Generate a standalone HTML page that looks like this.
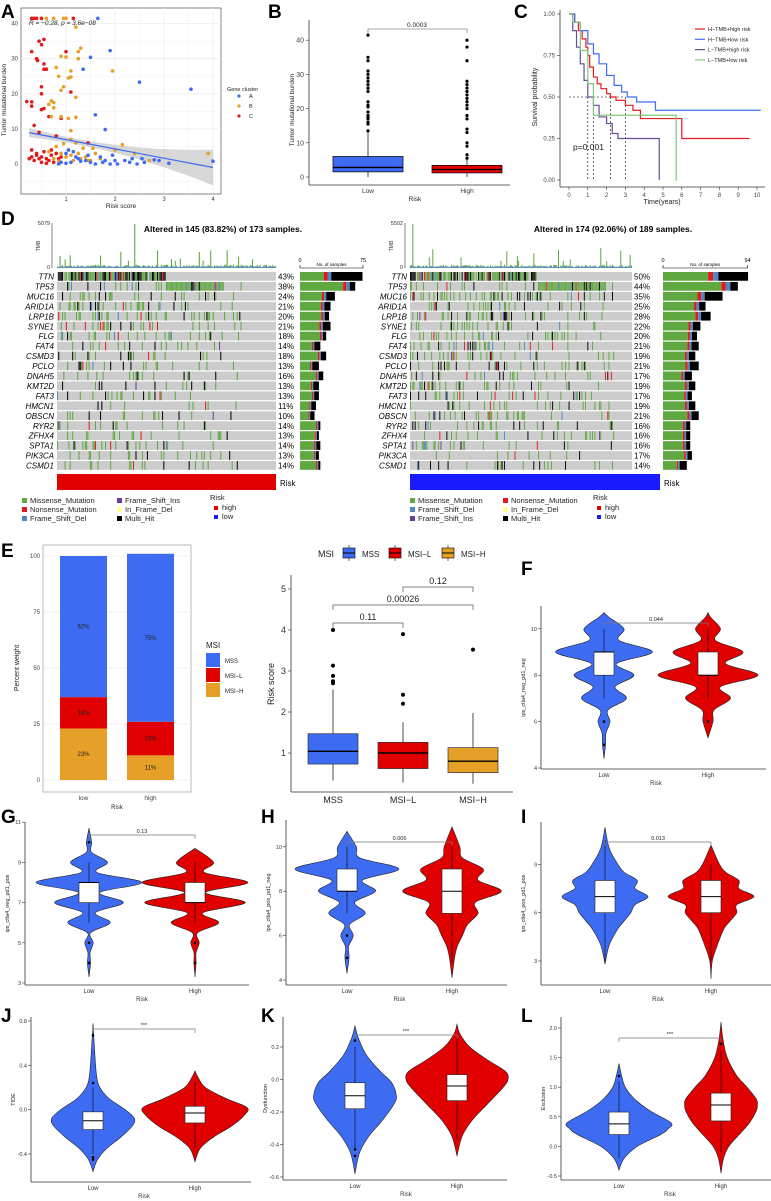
<!DOCTYPE html>
<html><head><meta charset="utf-8">
<style>
html,body{margin:0;padding:0;background:#fff;}
svg{display:block;font-family:"Liberation Sans",Arial,sans-serif;}
.pl{font-size:19px;font-weight:bold;fill:#000;}
</style></head>
<body>
<svg id="fig" width="771" height="1201" viewBox="0 0 771 1201" xmlns="http://www.w3.org/2000/svg">
<rect x="0" y="0" width="771" height="1201" fill="#fff"/>
<text class="pl" x="1" y="18">A</text>
<text class="pl" x="268" y="18">B</text>
<text class="pl" x="514" y="18">C</text>
<text class="pl" x="1" y="225">D</text>
<text class="pl" x="1" y="557">E</text>
<text class="pl" x="521" y="575">F</text>
<text class="pl" x="1" y="823">G</text>
<text class="pl" x="261" y="823">H</text>
<text class="pl" x="521" y="823">I</text>
<text class="pl" x="1" y="1022">J</text>
<text class="pl" x="261" y="1022">K</text>
<text class="pl" x="521" y="1022">L</text>
</svg>
<script>
const NS='http://www.w3.org/2000/svg';
const svg=document.getElementById('fig');
function mk(tag,attrs,parent){const e=document.createElementNS(NS,tag);for(const k in attrs)e.setAttribute(k,attrs[k]);(parent||svg).appendChild(e);return e;}
function tx(x,y,s,size,anchor,fill,extra){const e=mk('text',Object.assign({x:x,y:y,'font-size':size,'text-anchor':anchor||'start',fill:fill||'#222'},extra||{}));e.textContent=s;return e;}

// ===== Panel A data =====
const aCx=[0.3,0.35,0.4,0.5,1.15,0.3,0.45,0.5,0.55,0.4,0.42,0.55,0.55,0.6,1.0,0.5,0.5,0.2,0.3,0.3,0.5,0.55,0.65,0.9,1.1,0.35,0.45,0.8,1.45,0.3,0.4,0.5,0.6,0.7,0.3,0.35,0.45,0.5,0.55,0.65,0.7,0.75,0.8,0.85,0.4,0.6,0.25,0.9];
const aCy=[41.5,41.5,41.5,41.5,41.5,32,35,34,35.5,30,29.5,28.5,27,27,32,22,20,17.8,17.7,16.5,15.5,15.8,13.5,13,20.5,11,9,8,6,4,3,2,1.5,2.5,2,1,1.5,0.5,3.5,1,4,0.5,3,1.5,2.5,0.2,1.5,2];
const aBx=[0.6,0.75,0.95,1.0,1.2,1.0,0.9,1.25,1.3,1.25,1.95,0.8,1.1,0.85,1.05,1.1,0.9,0.95,1.2,0.7,0.75,0.65,0.75,0.7,0.9,1.05,1.2,1.1,1.1,2.15,3.9,0.8,0.9,1.0,1.05,1.15,1.25,1.3,1.35,1.4,1.5,0.75,0.85,0.95,1.2,1.6,1.7,2.0,2.4,2.7,1.55,0.65,1.1,1.45];
const aBy=[41.5,41.5,41.5,41.5,39,30.5,30.7,32,33,30,26.5,27.5,26.5,25,24.5,24.8,21,22,19,18,17.5,17,16,13.5,13.5,13,13.3,9.5,7,5.5,3,5,3,2,4,1,3,1.5,4.5,2,1,1.5,0.8,5.8,6,3,1.5,4,3,1,4.5,3.5,2.5,1];
const aAx=[1.65,1.9,1.5,1.35,2.5,3.55,1.6,1.8,4.0,3.1,2.8,2.45,2.0,1.8,1.7,1.5,1.4,1.3,1.2,1.1,1.0,0.9,0.85,1.05,1.15,2.2,2.35,2.6,2.9,1.6,1.75,1.95,2.05,1.25,1.45,2.3,1.0,1.9,2.55];
const aAy=[41.5,32.3,30.4,27,23.3,21.3,14,9.8,0.8,0.2,1.2,0,1,1,2,0.5,1,0.8,2,0.5,3,0.5,0,4,3.5,1,1.5,0.5,1,0,0.5,2.5,0,1.5,2.5,0.5,0.2,0,1.5];
const aFit=[9.6,-2.65];
const aXTicks=[1,2,3,4], aYTicks=[0,10,20,30,40];
(function(){
 const X=v=>17+v*49, Y=v=>164-v*3.51;
 let r=mk('rect',{x:21,y:8,width:200,height:186,fill:'#fff',stroke:'#666','stroke-width':0.8});
 
 
 [0.5,1,1.5,2,2.5,3,3.5,4].forEach(v=>{mk('line',{x1:X(v),x2:X(v),y1:8,y2:194,stroke:'#ececec','stroke-width':v%1?0.4:0.8});});
 [-5,0,5,10,15,20,25,30,35,40].forEach(v=>{mk('line',{x1:21,x2:221,y1:Y(v),y2:Y(v),stroke:'#ececec','stroke-width':v%10?0.4:0.8});});
 let up=[],lo=[];
 for(let i=0;i<=30;i++){const x=0.25+i*(3.75/30);const f=aFit[0]+aFit[1]*x;const se=0.8+0.55*(x-1.2)*(x-1.2);up.push(X(x)+','+Y(f+se));lo.unshift(X(x)+','+Y(f-se));}
 let band=mk('polygon',{points:up.concat(lo).join(' '),fill:'#bdbdbd','fill-opacity':0.6});
 
 
 const pts=[[aCx,aCy,'#e31a1c','cluster-c-point'],[aBx,aBy,'#e69f27','cluster-b-point'],[aAx,aAy,'#3d6cf2','cluster-a-point']];
 pts.forEach(p=>p[0].forEach((x,i)=>{let c=mk('circle',{cx:X(x),cy:Y(p[1][i]),r:1.8,fill:p[2]});
  
  }));
 let ln=mk('line',{x1:X(0.25),y1:Y(aFit[0]+aFit[1]*0.25),x2:X(4),y2:Y(aFit[0]+aFit[1]*4),stroke:'#3d6cf2','stroke-width':1.2});
 
 
 aXTicks.forEach(v=>{tx(X(v),201,v,6,'middle','#444');});
 aYTicks.forEach(v=>{tx(18,Y(v)+2,v,6,'end','#444');});
 let t=tx(121,208,'Risk score',6.5,'middle');
 
 t=tx(6,100,'Tumor mutational burden',6.5,'middle','#222',{transform:'rotate(-90 6 100)'});
 
 
 t=tx(29,25,'R = \u22120.28, p = 3.6e\u221208',6.5,'start','#222',{'font-style':'italic'});
 
 
 tx(227,91,'Gene cluster',5.5,'start');
 [['A','#3d6cf2',98],['B','#e69f27',108],['C','#e31a1c',118]].forEach(l=>{let c=mk('circle',{cx:239,cy:l[2]-2,r:1.6,fill:l[1]});
  
  
  tx(249,l[2],l[0],5.5,'start');});
})();

// ===== Panel B data =====
const bCats=['Low','High'];
const bBox=[[0,1.5,2.8,6,13],[0,1.2,2.2,3.4,5]];
const bOut=[[13.5,15.5,16,17,17.5,18,19,20.5,21,22,25,26,27,28,29,30,31,34,35,41.5],[5.5,6.5,9,10,13,14,17,18,20,21,22,23,24,25,26,27,28,34,38,40]];
const bYTicks=[0,10,20,30,40];
(function(){
 const Y=v=>177-v*3.42, cx=[368,467], col=['#3d6cf2','#e00000'];
 mk('line',{x1:309,x2:309,y1:20,y2:185,stroke:'#333','stroke-width':0.8});
 mk('line',{x1:309,x2:510,y1:185,y2:185,stroke:'#333','stroke-width':0.8});
 bYTicks.forEach(v=>{mk('line',{x1:306,x2:309,y1:Y(v),y2:Y(v),stroke:'#333','stroke-width':0.6});tx(304,Y(v)+2.5,v,7,'end','#444');});
 bCats.forEach((c,i)=>{const b=bBox[i],x=cx[i];
  mk('line',{x1:x,x2:x,y1:Y(b[0]),y2:Y(b[4]),stroke:'#000','stroke-width':0.7});
  let r=mk('rect',{x:x-35,y:Y(b[3]),width:70,height:Y(b[1])-Y(b[3]),fill:col[i],stroke:'#000','stroke-width':0.7});
  
  
  mk('line',{x1:x-35,x2:x+35,y1:Y(b[2]),y2:Y(b[2]),stroke:'#000','stroke-width':1.3});
  bOut[i].forEach(v=>{let o=mk('circle',{cx:x,cy:Y(v),r:1.6,fill:'#000'});
   
   });
  tx(x,193,c,6.5,'middle','#333');
 });
 mk('path',{d:'M368 33 V29 H467 V33',fill:'none',stroke:'#555','stroke-width':0.6});
 tx(417,27,'0.0003',6.5,'middle','#222');
 tx(415,201,'Risk',6.5,'middle');
 tx(294,110,'Tumor mutational burden',6.5,'middle','#222',{transform:'rotate(-90 294 110)'});
})();

// ===== Panel C data =====
const kmNames=['H\u2212TMB+high risk','H\u2212TMB+low risk','L\u2212TMB+high risk','L\u2212TMB+low risk'];
const kmT=[[0,0.3,0.5,0.7,0.9,1.0,1.1,1.3,1.5,1.7,2.0,2.2,2.5,3.0,3.4,3.8,6.0,9.6],[0,0.3,0.6,1.0,1.3,1.6,2.0,2.4,2.8,3.1,3.6,4.6,10.2],[0,0.2,0.4,0.6,0.8,1.0,1.3,1.6,2.0,2.3,2.6,4.8],[0,0.2,0.6,1.0,1.3,5.7,5.75]];
const kmS=[[1,0.95,0.9,0.85,0.8,0.75,0.68,0.62,0.58,0.55,0.52,0.5,0.48,0.45,0.42,0.37,0.25,0.25],[1,0.95,0.9,0.82,0.76,0.7,0.63,0.57,0.53,0.5,0.47,0.42,0.42],[1,0.9,0.8,0.7,0.6,0.5,0.45,0.38,0.34,0.28,0.25,0],[1,0.95,0.78,0.58,0.39,0,0]];
const kmMedian=[2.2,3.0,1.0,1.3];
const cXTicks=[0,1,2,3,4,5,6,7,8,9,10], cYTicks=[0,0.25,0.5,0.75,1];
(function(){
 const X=t=>569+t*18.8, Y=v=>180-v*166, col=['#e41a1c','#3d6cf2','#6a4c93','#7fc97f'];
 mk('line',{x1:560,x2:560,y1:10,y2:187,stroke:'#333','stroke-width':0.8});
 mk('line',{x1:560,x2:765,y1:187,y2:187,stroke:'#333','stroke-width':0.8});
 cYTicks.forEach(v=>{mk('line',{x1:557,x2:560,y1:Y(v),y2:Y(v),stroke:'#333','stroke-width':0.6});tx(555,Y(v)+2,v.toFixed(2),6,'end','#444');});
 cXTicks.forEach(v=>{mk('line',{x1:X(v),x2:X(v),y1:187,y2:190,stroke:'#333','stroke-width':0.6});tx(X(v),197,v,6,'middle','#444');});
 mk('line',{x1:X(0),x2:X(3.0),y1:Y(0.5),y2:Y(0.5),stroke:'#000','stroke-width':0.6,'stroke-dasharray':'2,2'});
 kmMedian.forEach(m=>{mk('line',{x1:X(m),x2:X(m),y1:Y(0.5),y2:Y(0),stroke:'#000','stroke-width':0.6,'stroke-dasharray':'2,2'});});
 kmT.forEach((ts,g)=>{let d='M'+X(ts[0])+' '+Y(kmS[g][0]);
  for(let i=1;i<ts.length;i++){d+=' H'+X(ts[i])+' V'+Y(kmS[g][i]);}
  let p=mk('path',{d:d,fill:'none',stroke:col[g],'stroke-width':1.2});
  
  
  let ly=31+g*10.3;
  mk('line',{x1:695,x2:705,y1:ly-2,y2:ly-2,stroke:col[g],'stroke-width':1.2});
  let lt=tx(708,ly,kmNames[g],5.5,'start');
  
  
 });
 tx(573,150,'p=0.001',8.5,'start','#222');
 tx(662,204,'Time(years)',7,'middle');
 tx(537,97,'Survival probability',7,'middle','#222',{transform:'rotate(-90 537 97)'});
})();

// ===== Panel D data =====
const dGenesL=['TTN','TP53','MUC16','ARID1A','LRP1B','SYNE1','FLG','FAT4','CSMD3','PCLO','DNAH5','KMT2D','FAT3','HMCN1','OBSCN','RYR2','ZFHX4','SPTA1','PIK3CA','CSMD1'];
const dPctL=[43,38,24,21,20,21,18,14,18,13,16,13,13,11,10,14,13,14,13,14];
const dGenesR=['TTN','TP53','MUC16','ARID1A','LRP1B','SYNE1','FLG','FAT4','CSMD3','PCLO','DNAH5','KMT2D','FAT3','HMCN1','OBSCN','RYR2','ZFHX4','SPTA1','PIK3CA','CSMD1'];
const dPctR=[50,44,35,25,28,22,20,21,19,21,17,19,17,19,21,16,16,16,17,14];
const dMultiL=[0.5,0.1,0.25,0.2,0.15,0.25,0.12,0.3,0.2,0.35,0.2,0.3,0.25,0.3,0.3,0.1,0.1,0.2,0.15,0.1];
const dMultiR=[0.35,0.1,0.3,0.15,0.2,0.2,0.15,0.2,0.2,0.25,0.25,0.2,0.15,0.2,0.2,0.15,0.15,0.15,0.15,0.3];
const COL={mis:'#5fa83f',non:'#e31a1c',del:'#4f86c6',ins:'#6a3d9a',ifd:'#ffff99',multi:'#000',bg:'#cccccc'};
function hsh(a,b,c){let h=(a*374761393+b*668265263+c*2147483647)>>>0;h=(h^(h>>>13))*1274126177>>>0;return ((h^(h>>>16))>>>0)/4294967296;}
function onco(o){
 const N=o.N,cw=(o.x1-o.x0)/N,rh=9.95,y0=272,alt=o.altered;
 mk('line',{x1:o.ax,x2:o.ax,y1:o.tmbTop,y2:268,stroke:'#333','stroke-width':0.6});
 tx(o.ax-2,o.tmbTop+2,o.tmbMax,5.5,'end','#333');tx(o.ax-2,269,'0',5.5,'end','#333');
 tx(o.ax-12,246,'TMB',5,'middle','#333',{transform:'rotate(-90 '+(o.ax-12)+' 246)'});
 for(let j=0;j<N;j++){let h=0.8+hsh(j,7,o.seed)*2.5;if(hsh(j,9,o.seed)>0.88)h+=4+hsh(j,3,o.seed)*14;if(j===o.spike)h=44;
  let b=mk('rect',{x:o.x0+j*cw,y:268-h,width:cw*0.85,height:h,fill:COL.mis});
  
  
  mk('rect',{x:o.x0+j*cw,y:268-Math.min(h,1.5),width:cw*0.85,height:Math.min(h,1.5),fill:COL.del});}
 let tt=tx(o.titleX,232,o.title,8.5,'middle','#000',{'font-weight':'bold'});
 
 
 o.genes.forEach((g,i)=>{const y=y0+i*rh;
  mk('rect',{x:o.x0,y:y,width:o.x1-o.x0,height:rh-1.2,fill:COL.bg});
  const p=o.pct[i]/100/alt;
  for(let j=0;j<N;j++){const r=j/N;let on=false;
   if(r<alt){ if(i===0) on=r<o.pct[0]/100*1.15 && hsh(i,j,o.seed)<0.9;
     else if(i===1) on=(r>o.pct[0]/100*1.15 && r<o.pct[0]/100*1.15+o.pct[1]/100*0.7)||hsh(i,j,o.seed)<0.3*p;
     else on=hsh(i,j,o.seed)<p*(r<0.5?0.9:0.5);}
   if(!on)continue;
   const k=hsh(j,i,o.seed+5);let c=COL.mis;
   if(k<o.multi[i])c=COL.multi;else if(k>0.95)c=COL.non;else if(k>0.91)c=COL.del;else if(k>0.9)c=COL.ins;
   let cell=mk('rect',{x:o.x0+j*cw,y:y,width:cw*0.8,height:rh-1.2,fill:c});
   
   
  }
  let gl=tx(o.x0-3,y+7.5,g,8,'end','#000',{'font-style':'italic'});
  
  
  tx(o.x1+2,y+7.5,o.pct[i]+'%',8,'start','#000');
  const tot=o.pct[i]/100*N*o.bs, m=tot*o.multi[i], nn=tot*0.06, dd=tot*0.06;
  let bx=o.bx;
  [[tot-m-nn-dd,COL.mis],[nn,COL.non],[dd,COL.del],[m,COL.multi]].forEach(s=>{let sb=mk('rect',{x:bx,y:y,width:Math.max(s[0],0),height:rh-1.2,fill:s[1]});
   
   bx+=s[0];});
 });
 mk('path',{d:'M'+o.bx+' 265 V268 H'+(o.bx+o.bmax*o.bs)+' V265',fill:'none',stroke:'#000','stroke-width':0.6});
 tx(o.bx,262,'0',5.5,'middle','#000');tx(o.bx+o.bmax*o.bs,262,o.bmax,5.5,'middle','#000');
 tx(o.bx+o.bmax*o.bs/2,266,'No. of samples',4.5,'middle','#000');
 let rb=mk('rect',{x:o.x0,y:474,width:o.rbw,height:16,fill:o.rcol});
 
 
 tx(o.x0+o.rbw+4,486,'Risk',8,'start','#000');
 o.leg.forEach(l=>{let s=mk('rect',{x:l[0],y:l[1]-5,width:5,height:5,fill:l[3]});
  
  
  tx(l[0]+8,l[1],l[2],7.5,'start','#222');});
 tx(o.rlx,500,'Risk',7.5,'start','#222');
 mk('rect',{x:o.rlx+4,y:506,width:4,height:4,fill:'#e00000'});tx(o.rlx+12,510,'high',7.5,'start','#222');
 mk('rect',{x:o.rlx+4,y:515,width:4,height:4,fill:'#1a1aff'});tx(o.rlx+12,519,'low',7.5,'start','#222');
}
onco({N:173,x0:57,x1:276,genes:dGenesL,pct:dPctL,multi:dMultiL,altered:0.84,seed:11,spike:61,ax:52,tmbTop:223,tmbMax:'5079',title:'Altered in 145 (83.82%) of 173 samples.',titleX:223,bx:300,bs:0.84,bmax:75,rbw:219,rcol:'#e00000',rlx:210,
 leg:[[22,503,'Missense_Mutation',COL.mis],[22,512,'Nonsense_Mutation',COL.non],[22,521,'Frame_Shift_Del',COL.del],[117,503,'Frame_Shift_Ins',COL.ins],[117,512,'In_Frame_Del',COL.ifd],[117,521,'Multi_Hit',COL.multi]]});
onco({N:189,x0:410,x1:632,genes:dGenesR,pct:dPctR,multi:dMultiR,altered:0.92,seed:23,spike:2,ax:405,tmbTop:223,tmbMax:'5502',title:'Altered in 174 (92.06%) of 189 samples.',titleX:613,bx:663,bs:0.9,bmax:94,rbw:250,rcol:'#1a1aff',rlx:593,
 leg:[[410,503,'Missense_Mutation',COL.mis],[410,512,'Frame_Shift_Del',COL.del],[410,521,'Frame_Shift_Ins',COL.ins],[503,503,'Nonsense_Mutation',COL.non],[503,512,'In_Frame_Del',COL.ifd],[503,521,'Multi_Hit',COL.multi]]});

// ===== Panel E (stacked) data =====
const eCats=['low','high'];
const eMSS=[63,75], eMSIL=[14,15], eMSIH=[23,11];
const eLab=[['62%','14%','23%'],['75%','15%','11%']];
const eYTicks=[0,25,50,75,100];
(function(){
 const Y=v=>780-v*2.24, bx=[60,127], cols=['#3d6cf2','#e00000','#e69f27'];
 mk('rect',{x:43,y:545,width:148,height:247,fill:'#fff',stroke:'#aaa','stroke-width':0.8});
 eYTicks.forEach(v=>{mk('line',{x1:43,x2:191,y1:Y(v),y2:Y(v),stroke:'#eee','stroke-width':0.8});tx(40,Y(v)+2,v,6,'end','#444');});
 eCats.forEach((c,i)=>{const segs=[[0,eMSIH[i]],[eMSIH[i],eMSIH[i]+eMSIL[i]],[eMSIH[i]+eMSIL[i],eMSIH[i]+eMSIL[i]+eMSS[i]]];
  [2,1,0].forEach((k,idx)=>{const s=segs[idx];let r=mk('rect',{x:bx[i],y:Y(s[1]),width:47,height:Y(s[0])-Y(s[1]),fill:cols[k]});
   
   
   tx(bx[i]+23.5,(Y(s[0])+Y(s[1]))/2+2,eLab[i][k],6,'middle','#222');});
  tx(bx[i]+23.5,800,c,6.5,'middle','#444');});
 tx(117,809,'Risk',6,'middle');
 tx(19,668,'Percent weight',7,'middle','#222',{transform:'rotate(-90 19 668)'});
 tx(206,648,'MSI',8,'start');
 [['MSS',cols[0]],['MSI\u2212L',cols[1]],['MSI\u2212H',cols[2]]].forEach((l,i)=>{let s=mk('rect',{x:206,y:653+i*15,width:14,height:14,fill:l[1]});
  
  
  tx(225,663+i*15,l[0],6,'start');});
})();

// ===== Panel E (box) data =====
const mCats=['MSS','MSI\u2212L','MSI\u2212H'];
const mBox=[[0.33,0.73,1.04,1.47,2.55],[0.28,0.62,1.0,1.26,1.75],[0.25,0.52,0.8,1.13,1.98]];
const mOut=[[4.0,3.13,2.88,2.75,2.7],[3.9,2.42,2.2],[3.52]];
const mYTicks=[1,2,3,4,5];
const mPairs=[[0,1,'0.11',623],[0,2,'0.00026',605],[1,2,'0.12',587]];
(function(){
 const Y=v=>794-v*41, cx=[333,403,473], cols=['#3d6cf2','#e00000','#e69f27'];
 mk('line',{x1:291,x2:291,y1:575,y2:792,stroke:'#333','stroke-width':0.8});
 mk('line',{x1:291,x2:513,y1:792,y2:792,stroke:'#333','stroke-width':0.8});
 mYTicks.forEach(v=>{mk('line',{x1:288,x2:291,y1:Y(v),y2:Y(v),stroke:'#333','stroke-width':0.6});tx(286,Y(v)+3,v,9,'end','#333');});
 mCats.forEach((c,i)=>{const b=mBox[i],x=cx[i];
  mk('line',{x1:x,x2:x,y1:Y(b[0]),y2:Y(b[4]),stroke:'#000','stroke-width':0.7});
  let r=mk('rect',{x:x-25,y:Y(b[3]),width:50,height:Y(b[1])-Y(b[3]),fill:cols[i],stroke:'#333','stroke-width':0.7});
  
  
  mk('line',{x1:x-25,x2:x+25,y1:Y(b[2]),y2:Y(b[2]),stroke:'#000','stroke-width':1.4});
  mOut[i].forEach(v=>{let o=mk('circle',{cx:x,cy:Y(v),r:2,fill:'#000'});
   
   });
  tx(x,803,c,9,'middle','#222');});
 mPairs.forEach(p=>{mk('path',{d:'M'+cx[p[0]]+' '+(p[3]+5)+' V'+p[3]+' H'+cx[p[1]]+' V'+(p[3]+5),fill:'none',stroke:'#555','stroke-width':0.7});
  tx((cx[p[0]]+cx[p[1]])/2,p[3]-3,p[2],9,'middle','#222');});
 tx(274,684,'Risk score',9,'middle','#222',{transform:'rotate(-90 274 684)'});
 tx(318,557,'MSI',9,'start');
 [[343,362,'MSS'],[389,408,'MSI\u2212L'],[442,461,'MSI\u2212H']].forEach((l,i)=>{
  mk('line',{x1:l[0]+6,x2:l[0]+6,y1:545,y2:561,stroke:'#000','stroke-width':0.6});
  let s=mk('rect',{x:l[0],y:548,width:12,height:10,fill:cols[i],stroke:'#000','stroke-width':0.6});
  
  
  mk('line',{x1:l[0],x2:l[0]+12,y1:553,y2:553,stroke:'#000','stroke-width':1});
  tx(l[1],557,l[2],8,'start');});
})();

// ===== Violin panels data =====
const F_low_v=[4.4,5,5.5,6,6.5,7,7.5,8,8.5,9,9.5,10,10.5,10.7];
const F_low_w=[0,0.03,0.04,0.12,0.08,0.45,0.22,0.6,0.25,0.97,0.3,0.4,0.1,0];
const F_high_v=[5.3,6,6.5,7,7.5,8,8.5,9,9.5,10,10.5,10.7];
const F_high_w=[0,0.1,0.12,0.45,0.25,1.0,0.35,0.7,0.15,0.25,0.05,0];
const F_box=[[7,8,9,9,10],[7,8,8,9,10]];const F_out=[[6,5],[6]];
const G_low_v=[3.3,4,4.5,5,5.5,6,6.5,7,7.5,8,8.5,9,9.5,10,10.7];
const G_low_w=[0,0.03,0.02,0.08,0.03,0.4,0.12,0.65,0.2,1.0,0.15,0.35,0.05,0.05,0];
const G_high_v=[3.3,4,4.5,5,5.5,6,6.5,7,7.5,8,8.5,9,9.7];
const G_high_w=[0,0.02,0.02,0.08,0.05,0.45,0.15,0.95,0.2,1.0,0.18,0.35,0];
const G_box=[[6,7,8,8,9],[6,7,7,8,9]];const G_out=[[10,5,4],[5,4]];
const H_low_v=[4.3,5,5.5,6,6.5,7,7.5,8,8.5,9,9.5,10,10.7];
const H_low_w=[0,0.04,0.03,0.12,0.05,0.35,0.15,0.55,0.3,1.0,0.25,0.18,0];
const H_high_v=[4.1,5,5.5,6,6.5,7,7.5,8,8.5,9,9.5,10,10.9];
const H_high_w=[0,0.05,0.1,0.2,0.3,0.5,0.45,0.95,0.5,0.6,0.2,0.15,0];
const H_box=[[7,8,8,9,10],[4.8,7,8,9,10]];const H_out=[[6,5],[]];
const I_low_v=[2.8,4,5,5.5,6,6.5,7,7.5,8,8.5,9,10,11.3];
const I_low_w=[0,0.1,0.3,0.45,0.6,0.7,1.0,0.7,0.75,0.45,0.3,0.1,0];
const I_high_v=[1.9,3,4,5,5.5,6,6.5,7,7.5,8,8.5,9,10.2];
const I_high_w=[0,0.03,0.15,0.3,0.45,0.6,0.6,1.0,0.65,0.65,0.35,0.2,0];
const I_box=[[3,6,7,8,10.5],[3,6,7,8,9]];const I_out=[[],[]];
const J_low_v=[-0.56,-0.45,-0.35,-0.25,-0.15,-0.08,0,0.1,0.2,0.3,0.5,0.78];
const J_low_w=[0,0.1,0.3,0.6,0.85,0.9,0.7,0.35,0.15,0.08,0.04,0];
const J_high_v=[-0.47,-0.35,-0.25,-0.15,-0.05,0.02,0.1,0.2,0.3,0.35];
const J_high_w=[0,0.1,0.35,0.7,0.95,1.0,0.6,0.2,0.05,0];
const J_box=[[-0.4,-0.18,-0.1,-0.02,0.2],[-0.35,-0.12,-0.03,0.03,0.25]];const J_out=[[0.67,0.24,-0.43,-0.45],[]];
const K_low_v=[-0.58,-0.45,-0.35,-0.25,-0.15,-0.1,-0.02,0.05,0.15,0.25,0.33];
const K_low_w=[0,0.1,0.3,0.6,0.85,0.9,0.8,0.55,0.25,0.08,0];
const K_high_v=[-0.47,-0.35,-0.25,-0.15,-0.05,0,0.05,0.12,0.2,0.28,0.34];
const K_high_w=[0,0.1,0.3,0.6,0.9,1.0,0.95,0.6,0.25,0.06,0];
const K_box=[[-0.43,-0.18,-0.1,-0.02,0.2],[-0.37,-0.13,-0.04,0.03,0.26]];const K_out=[[0.24,-0.43,-0.47],[]];
const L_low_v=[-0.4,-0.2,0,0.2,0.3,0.4,0.6,0.8,1.0,1.2,1.4];
const L_low_w=[0,0.1,0.35,0.8,0.95,1.0,0.6,0.3,0.12,0.05,0];
const L_high_v=[-0.45,-0.2,0,0.2,0.4,0.6,0.7,0.8,1.0,1.2,1.5,1.8,2.1];
const L_high_w=[0,0.05,0.15,0.35,0.55,0.68,0.7,0.68,0.5,0.3,0.12,0.04,0];
const L_box=[[-0.2,0.2,0.38,0.58,1.1],[-0.1,0.43,0.7,0.9,1.6]];const L_out=[[1.19],[1.73]];
const vCats=['Low','High'];

function smooth(pts){let d='M'+pts[0][0]+' '+pts[0][1];
 for(let i=0;i<pts.length-1;i++){const p0=pts[Math.max(i-1,0)],p1=pts[i],p2=pts[i+1],p3=pts[Math.min(i+2,pts.length-1)];
  d+=' C'+(p1[0]+(p2[0]-p0[0])/6)+' '+(p1[1]+(p2[1]-p0[1])/6)+' '+(p2[0]-(p3[0]-p1[0])/6)+' '+(p2[1]-(p3[1]-p1[1])/6)+' '+p2[0]+' '+p2[1];}
 return d;}
function violinPanel(c){
 const Y=v=>c.y0-(v-c.v0)*c.k;
 mk('line',{x1:c.ax,x2:c.ax,y1:c.top,y2:c.base,stroke:'#333','stroke-width':0.8});
 mk('line',{x1:c.ax,x2:c.ax2,y1:c.base,y2:c.base,stroke:'#333','stroke-width':0.8});
 c.ticks.forEach(v=>{mk('line',{x1:c.ax-3,x2:c.ax,y1:Y(v),y2:Y(v),stroke:'#333','stroke-width':0.6});tx(c.ax-4,Y(v)+2,c.fmt?v.toFixed(1):v,5.5,'end','#333');});
 const cols=['#3d6cf2','#e00000'];
 [0,1].forEach(i=>{const vv=c.v[i],ww=c.w[i],x=c.cx[i],m=c.mw[i];
  const right=vv.map((v,j)=>[x+ww[j]*m,Y(v)]),left=vv.map((v,j)=>[x-ww[j]*m,Y(v)]).reverse();
  let d=smooth(right)+' '+smooth(left).replace('M','L')+' Z';
  let p=mk('path',{d:d,fill:cols[i],stroke:'#222','stroke-width':0.6});
  
  
  const b=c.box[i];
  mk('line',{x1:x,x2:x,y1:Y(b[0]),y2:Y(b[4]),stroke:'#000','stroke-width':0.6});
  let r=mk('rect',{x:x-10,y:Y(b[3]),width:20,height:Math.max(Y(b[1])-Y(b[3]),0.5),fill:'#fff',stroke:'#222','stroke-width':0.6});
  
  
  mk('line',{x1:x-10,x2:x+10,y1:Y(b[2]),y2:Y(b[2]),stroke:'#000','stroke-width':1});
  c.out[i].forEach(v=>{let o=mk('circle',{cx:x,cy:Y(v),r:1.3,fill:'#000'});
   
   });
  tx(x,c.base+8,vCats[i],6,'middle','#333');});
 mk('path',{d:'M'+c.cx[0]+' '+(c.br+4)+' V'+c.br+' H'+c.cx[1]+' V'+(c.br+4),fill:'none',stroke:'#777','stroke-width':0.7});
 tx((c.cx[0]+c.cx[1])/2,c.br-2,c.p,5.5,'middle','#222');
 tx((c.cx[0]+c.cx[1])/2,c.base+16,'Risk',6,'middle','#333');
 const ym=(c.top+c.base)/2;
 let t=tx(c.ax-16,ym,c.title,5.5,'middle','#222',{transform:'rotate(-90 '+(c.ax-16)+' '+ym+')'});
 
 
}
violinPanel({ax:541,ax2:766,top:606,base:769,y0:768,v0:4,k:23.2,ticks:[4,6,8,10],cx:[604,708],mw:[50,50],v:[F_low_v,F_high_v],w:[F_low_w,F_high_w],box:F_box,out:F_out,br:623,p:'0.044',title:'ips_ctla4_neg_pd1_neg'});
violinPanel({ax:25,ax2:249,top:822,base:985,y0:983,v0:3,k:20.1,ticks:[3,5,7,9,11],cx:[89,195],mw:[53,53],v:[G_low_v,G_high_v],w:[G_low_w,G_high_w],box:G_box,out:G_out,br:835,p:'0.13',title:'ips_ctla4_neg_pd1_pos'});
violinPanel({ax:286,ax2:507,top:820,base:985,y0:980,v0:4,k:22.2,ticks:[4,6,8,10],cx:[347,452],mw:[52,52],v:[H_low_v,H_high_v],w:[H_low_w,H_high_w],box:H_box,out:H_out,br:842,p:'0.006',title:'ips_ctla4_pos_pd1_neg'});
violinPanel({ax:541,ax2:771,top:822,base:985,y0:961,v0:3,k:16.1,ticks:[3,6,9],cx:[605,711],mw:[43,43],v:[I_low_v,I_high_v],w:[I_low_w,I_high_w],box:I_box,out:I_out,br:842,p:'0.013',title:'ips_ctla4_pos_pd1_pos'});
violinPanel({ax:31,ax2:251,top:1017,base:1182,y0:1021,v0:0.8,k:110.8,ticks:[-0.4,0,0.4,0.8],fmt:1,cx:[93,195],mw:[46,52],v:[J_low_v,J_high_v],w:[J_low_w,J_high_w],box:J_box,out:J_out,br:1029,p:'***',title:'TIDE'});
violinPanel({ax:283,ax2:507,top:1017,base:1180,y0:1047,v0:0.2,k:162.5,ticks:[-0.6,-0.4,-0.2,0,0.2],fmt:1,cx:[355,457],mw:[46,51],v:[K_low_v,K_high_v],w:[K_low_w,K_high_w],box:K_box,out:K_out,br:1035,p:'***',title:'Dysfunction'});
violinPanel({ax:561,ax2:771,top:1017,base:1180,y0:1028,v0:2,k:59.2,ticks:[-0.5,0,0.5,1,1.5,2],fmt:1,cx:[619,721],mw:[52,52],v:[L_low_v,L_high_v],w:[L_low_w,L_high_w],box:L_box,out:L_out,br:1038,p:'***',title:'Exclusion'});
</script>
</body></html>
